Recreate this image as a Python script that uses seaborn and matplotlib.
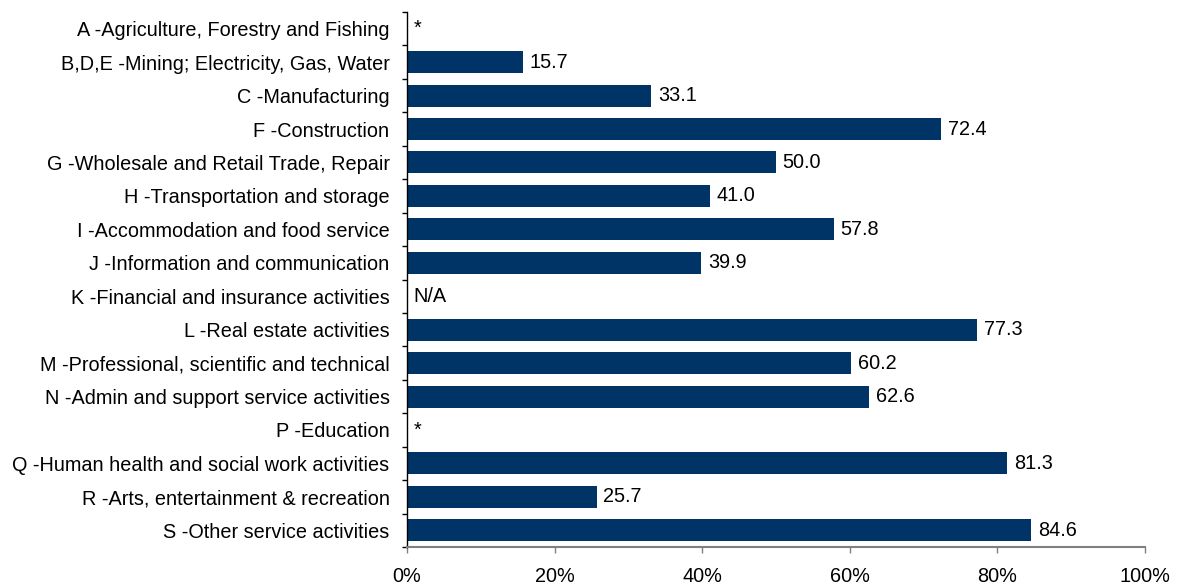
import numpy as np
import pandas as pd
import seaborn as sns
import matplotlib.pyplot as plt
from matplotlib.ticker import FixedLocator, PercentFormatter

# sectors, top to bottom
categories = [
    "A -Agriculture, Forestry and Fishing",
    "B,D,E -Mining; Electricity, Gas, Water",
    "C -Manufacturing",
    "F -Construction",
    "G -Wholesale and Retail Trade, Repair",
    "H -Transportation and storage",
    "I -Accommodation and food service",
    "J -Information and communication",
    "K -Financial and insurance activities",
    "L -Real estate activities",
    "M -Professional, scientific and technical",
    "N -Admin and support service activities",
    "P -Education",
    "Q -Human health and social work activities",
    "R -Arts, entertainment & recreation",
    "S -Other service activities",
]
values = [np.nan, 15.7, 33.1, 72.4, 50.0, 41.0, 57.8, 39.9, np.nan,
          77.3, 60.2, 62.6, np.nan, 81.3, 25.7, 84.6]
value_labels = ["*", "15.7", "33.1", "72.4", "50.0", "41.0", "57.8", "39.9", "N/A",
                "77.3", "60.2", "62.6", "*", "81.3", "25.7", "84.6"]
x_ticks = [0, 20, 40, 60, 80, 100]

df = pd.DataFrame({"sector": categories, "value": values})
df["value"] = df["value"].fillna(0)

sns.set_style("white")
plt.rcParams["font.family"] = ["Liberation Sans", "DejaVu Sans"]
plt.rcParams["text.color"] = "black"
fs = 14.3

fig = plt.figure(figsize=(11.82, 5.87), dpi=100)
ax = fig.add_axes([0.3443, 0.0681, 0.6244, 0.9115])

sns.barplot(data=df, x="value", y="sector", orient="h", color="#003366",
            saturation=1, width=0.66, linewidth=0, ax=ax)

for i, (v, lab) in enumerate(zip(values, value_labels)):
    xv = 0 if np.isnan(v) else v
    ax.text(xv + 0.9, i, lab, va="center", ha="left", fontsize=fs, color="black")

ax.set_xlim(0, 100)
ax.set_ylim(len(categories) - 0.5, -0.5)
ax.set_xlabel("")
ax.set_ylabel("")

ax.xaxis.set_major_locator(FixedLocator(x_ticks))
ax.xaxis.set_major_formatter(PercentFormatter(decimals=0))
ax.tick_params(axis="x", which="major", direction="out", length=4.5, width=1,
               color="#808080", labelcolor="black", pad=10, labelsize=fs, bottom=True)

ax.yaxis.set_minor_locator(FixedLocator(np.arange(-0.5, len(categories), 1)))
ax.tick_params(axis="y", which="major", length=0, pad=12.5, labelsize=fs,
               labelcolor="black")
ax.tick_params(axis="y", which="minor", direction="out", length=3.5, width=1,
               color="black", left=True)

for s in ["top", "right"]:
    ax.spines[s].set_visible(False)
ax.spines["left"].set_color("black")
ax.spines["left"].set_linewidth(1)
ax.spines["bottom"].set_color("#808080")
ax.spines["bottom"].set_linewidth(1.5)

fig.savefig("out.png", dpi=100)
